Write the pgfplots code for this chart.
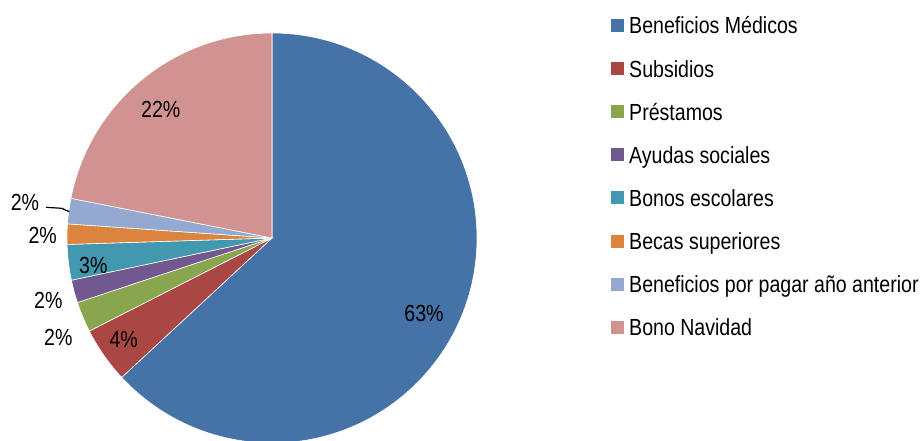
\documentclass[border=0pt]{standalone}
\usepackage{pgfplots}
\pgfplotsset{compat=1.18}
\usepackage{pgfplotstable}
\usepackage{fontspec}
\setmainfont{Liberation Sans}[FakeStretch=0.84]
\newcommand\lblfont{\fontsize{23.3}{26}\selectfont}
\definecolor{cA}{HTML}{4572A7}
\definecolor{cB}{HTML}{AA4643}
\definecolor{cC}{HTML}{89A54E}
\definecolor{cD}{HTML}{71588F}
\definecolor{cE}{HTML}{4198AF}
\definecolor{cF}{HTML}{DB843D}
\definecolor{cG}{HTML}{93A9CF}
\definecolor{cH}{HTML}{D19392}
\pgfplotsset{sqlegend/.style={legend image code/.code={\fill[##1,draw=none] (0pt,-6.5pt) rectangle (13pt,6.5pt);}}}
\begin{document}
\pgfplotstableread[col sep=comma]{
name,value,col
Beneficios Médicos,63.1,cA
Subsidios,4.4,cB
Préstamos,2.4,cC
Ayudas sociales,1.8,cD
Bonos escolares,2.8,cE
Becas superiores,1.6,cF
Beneficios por pagar año anterior,2.0,cG
Bono Navidad,21.9,cH
}\piedata
\def\piecmds{}%
\def\cur{90}%
\pgfplotstablegetrowsof{\piedata}%
\pgfmathtruncatemacro\lastrow{\pgfplotsretval-1}%
\pgfplotsforeachungrouped \i in {0,...,\lastrow}{%
  \pgfplotstablegetelem{\i}{value}\of\piedata \let\pval\pgfplotsretval
  \pgfplotstablegetelem{\i}{col}\of\piedata \let\pcol\pgfplotsretval
  \pgfplotstablegetelem{\i}{name}\of\piedata \let\pname\pgfplotsretval
  \pgfmathsetmacro\nxt{\cur-3.6*\pval}%
  \edef\piecmds{\expandafter\unexpanded\expandafter{\piecmds}%
    \noexpand\fill[fill=\pcol,draw=white,line width=0.6pt] (axis cs:272,202) -- ++(\cur:205pt) arc[start angle=\cur,end angle=\nxt,radius=205pt] -- cycle;%
    \noexpand\addlegendimage{sqlegend,fill=\pcol}\noexpand\addlegendentry{\expandafter\unexpanded\expandafter{\pname}}}%
  \let\cur\nxt
}%
\begin{tikzpicture}
\begin{axis}[
  x=1pt, y=1pt,
  xmin=0, xmax=923, ymin=0, ymax=440,
  hide axis,
  legend cell align=left,
  legend style={at={(axis cs:611,423)}, anchor=north west, draw=none, fill=none,
    inner sep=0pt, row sep=26.4pt, column sep=5pt,
    nodes={inner sep=0pt, text depth=0pt, text height=16.7pt},
    font=\lblfont},
]
\piecmds
\begin{scope}[every node/.style={inner sep=0pt, text depth=0pt, text height=16.7pt, anchor=center, font=\lblfont}]
\node at (axis cs:424,127) {63\%};
\node at (axis cs:123.7,101) {4\%};
\node at (axis cs:58.3,103.3) {2\%};
\node at (axis cs:48.3,140) {2\%};
\node at (axis cs:93.3,175) {3\%};
\node at (axis cs:42.7,205) {2\%};
\node at (axis cs:25,238.3) {2\%};
\node at (axis cs:160.8,331) {22\%};
\end{scope}
\draw[black, line width=1.2pt] (axis cs:46,232.7) -- (axis cs:61.7,231.7) -- (axis cs:69.3,228.3);
\end{axis}
\pgfresetboundingbox
\path (current axis.south west) rectangle (current axis.north east);
\end{tikzpicture}
\end{document}
